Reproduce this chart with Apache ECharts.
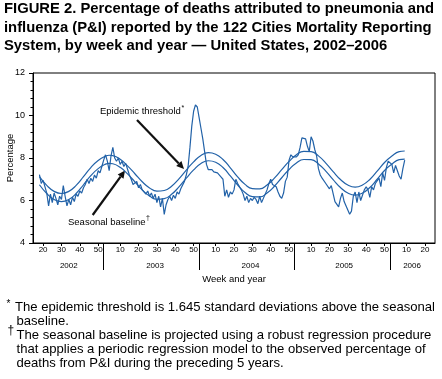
<!DOCTYPE html>
<html><head><meta charset="utf-8">
<script src="https://cdn.jsdelivr.net/npm/echarts@6/dist/echarts.min.js"></script>
<style>html,body{margin:0;padding:0;background:#fff}#c{width:442px;height:379px}</style>
</head><body><div id="c"></div>
<script>
// ---- data ----
const years = [2002, 2003, 2004, 2005, 2006];
const firstWeek = 15;      // first week shown in 2002
const lastWeek = 25;       // last week shown in 2006
const weeksInYear = 52;
const weekTickLabels = [10, 20, 30, 40, 50];
const yTickValues = [4, 6, 8, 10, 12];
const obsStart = 3;        // category index of first observed week (2002 wk 18)
const observed = [
  7.22,6.8,6.95,6.65,6.35,5.75,6.3,5.9,6.35,6.1,
  5.8,6.2,6.05,6.7,6.2,5.75,6.05,5.8,6.15,5.95,
  6.3,6.2,6.45,6.35,6.6,6.75,7.0,6.8,7.05,6.9,
  7.2,7.05,7.4,7.3,7.6,7.9,8.15,7.85,7.4,8.1,
  8.5,8.0,7.85,8.0,7.7,7.85,7.6,7.75,7.7,7.2,
  7.0,6.75,6.7,6.9,6.6,6.75,6.5,6.55,6.3,6.45,
  6.2,6.35,6.1,6.3,5.9,6.2,5.7,6.1,5.35,5.8,
  6.05,6.2,6.0,6.25,6.1,6.4,6.3,6.55,6.6,6.9,
  7.2,7.6,8.5,9.5,10.2,10.5,10.4,9.9,9.4,8.9,
  8.3,7.7,7.45,7.4,7.45,7.35,7.4,7.3,7.35,7.1,
  7.0,6.2,6.5,6.15,6.4,6.3,6.5,7.0,6.8,6.65,
  6.5,6.3,6.0,6.2,5.9,6.1,6.0,6.15,6.05,5.85,
  6.2,5.9,6.1,6.3,6.5,6.8,7.0,6.75,6.8,6.65,
  6.4,6.2,6.1,6.35,6.9,7.1,7.9,8.15,8.05,8.0,
  8.05,8.15,8.5,8.95,8.95,8.9,8.55,8.3,9.0,8.8,
  8.4,8.1,7.5,7.2,7.05,7.0,6.8,6.75,6.55,6.7,
  6.7,5.95,6.0,5.7,6.1,6.35,5.95,5.75,5.8,5.35,
  5.5,6.2,6.4,5.9,6.4,6.0,5.95,6.5,6.65,6.5,
  6.15,6.65,6.5,6.8,6.75,7.05,6.65,7.3,6.95,7.55,
  7.85,7.8,7.7,7.3,7.65,7.6,7.15,7.0,7.5,7.9
];
const curveIdx = [3,7,11,15,19,23,27,31,35,39,41,43,47,51,55,59,63,67,71,75,79,83,87,91,95,99,103,107,111,115,119,123,127,131,135,139,143,147,151,155,159,163,167,171,175,179,183,187,191,195,199,202];
const baseline = [6.74,6.33,6.05,5.95,6.05,6.33,6.74,7.17,7.5,7.71,7.75,7.73,7.56,7.25,6.88,6.5,6.21,6.06,6.09,6.29,6.64,7.05,7.44,7.74,7.87,7.8,7.55,7.16,6.73,6.38,6.18,6.17,6.35,6.67,7.07,7.46,7.77,7.93,7.92,7.72,7.38,6.98,6.61,6.35,6.25,6.35,6.61,7.0,7.41,7.71,7.92,7.95];
const threshold = [7.12,6.71,6.43,6.33,6.43,6.71,7.12,7.55,7.88,8.09,8.13,8.11,7.94,7.63,7.26,6.88,6.59,6.44,6.47,6.67,7.02,7.43,7.82,8.12,8.25,8.18,7.93,7.54,7.11,6.76,6.56,6.55,6.73,7.05,7.45,7.84,8.15,8.31,8.3,8.1,7.76,7.36,6.99,6.73,6.63,6.73,6.99,7.38,7.79,8.09,8.3,8.33];
const yearLabelWeek = {2002: 34, 2003: 29, 2004: 29, 2005: 28, 2006: 13};

// ---- build categories ----
const cats = [], catWeek = [], catYear = [];
years.forEach((y, i) => {
  const s = i === 0 ? firstWeek : 1;
  const e = i === years.length - 1 ? lastWeek : weeksInYear;
  for (let w = s; w <= e; w++) { cats.push(y + '-' + w); catWeek.push(w); catYear.push(y); }
});
const obsData = cats.map((c, i) => (i >= obsStart && i - obsStart < observed.length) ? observed[i - obsStart] : null);
const baseData = curveIdx.map((k, j) => [k, baseline[j]]);
const threshData = curveIdx.map((k, j) => [k, threshold[j]]);

const FF = '"Liberation Sans", Arial, Helvetica, sans-serif';
const BLUE = '#2262a8';

function arrow(x1, y1, x2, y2) {
  const dx = x2 - x1, dy = y2 - y1, L = Math.hypot(dx, dy);
  const ux = dx / L, uy = dy / L, hl = 7.5, hw = 3.6;
  const bx = x2 - ux * hl, by = y2 - uy * hl;
  return [
    {type: 'line', shape: {x1: x1, y1: y1, x2: bx, y2: by}, style: {stroke: '#111', lineWidth: 2.2}},
    {type: 'polygon', shape: {points: [[x2, y2], [bx - uy * hw, by + ux * hw], [bx + uy * hw, by - ux * hw]]}, style: {fill: '#111'}}
  ];
}
function txt(x, y, s, size, extra) {
  return Object.assign({type: 'text', x: x, y: y, style: {text: s, font: size + 'px ' + FF, fill: '#000', align: 'left', verticalAlign: 'middle'}}, extra || {});
}

const chart = echarts.init(document.getElementById('c'), null, {renderer: 'canvas'});
chart.setOption({
  animation: false,
  backgroundColor: '#fff',
  title: {
    text: 'FIGURE 2. Percentage of deaths attributed to pneumonia and\ninfluenza (P&I) reported by the 122 Cities Mortality Reporting\nSystem, by week and year \u2014 United States, 2002\u20132006',
    left: 4, top: 0, padding: 0,
    textStyle: {fontSize: 14.8, fontWeight: 'bold', lineHeight: 18.3, fontFamily: FF, color: '#000'}
  },
  grid: {left: 33, right: 7, top: 73, height: 170, show: true, borderColor: '#000', borderWidth: 1, backgroundColor: 'transparent', containLabel: false, outerBoundsMode: 'none'},
  xAxis: [{
    type: 'category', data: cats, boundaryGap: true,
    axisLine: {lineStyle: {color: '#000', width: 1}},
    axisTick: {show: true, alignWithLabel: true, length: 3, interval: (i) => weekTickLabels.indexOf(catWeek[i]) >= 0, lineStyle: {color: '#000'}},
    axisLabel: {interval: (i) => weekTickLabels.indexOf(catWeek[i]) >= 0, formatter: (v) => v.split('-')[1], fontSize: 8, margin: 3, color: '#000', fontFamily: FF},
    splitLine: {show: false}
  }, {
    type: 'category', data: cats, boundaryGap: true, position: 'bottom',
    axisLine: {show: false},
    axisTick: {show: true, alignWithLabel: true, length: 27, interval: (i) => catWeek[i] === 1, lineStyle: {color: '#000'}},
    axisLabel: {interval: (i) => yearLabelWeek[catYear[i]] === catWeek[i], formatter: (v) => v.split('-')[0], fontSize: 8, margin: 19, color: '#000', fontFamily: FF},
    splitLine: {show: false},
    name: 'Week and year', nameLocation: 'middle', nameGap: 31, nameMoveOverlap: false,
    nameTextStyle: {fontSize: 9.5, color: '#000', fontFamily: FF}
  }],
  yAxis: {
    type: 'value', min: yTickValues[0], max: yTickValues[yTickValues.length - 1], interval: 2,
    axisLine: {show: true, lineStyle: {color: '#000'}},
    axisTick: {show: true, length: 4, lineStyle: {color: '#000'}},
    minorTick: {show: true, splitNumber: 5, length: 2.5, lineStyle: {color: '#000'}},
    splitLine: {show: false},
    axisLabel: {fontSize: 9, margin: 8, color: '#000', fontFamily: FF},
    name: 'Percentage', nameLocation: 'middle', nameGap: 18, nameMoveOverlap: false,
    nameTextStyle: {fontSize: 9.5, color: '#000', fontFamily: FF}
  },
  series: [
    {name: 'Observed', type: 'line', data: obsData, showSymbol: false, lineStyle: {color: BLUE, width: 1.2}, itemStyle: {color: BLUE}, connectNulls: false},
    {name: 'Seasonal baseline', type: 'line', data: baseData, smooth: true, showSymbol: false, lineStyle: {color: BLUE, width: 1.2}, itemStyle: {color: BLUE}},
    {name: 'Epidemic threshold', type: 'line', data: threshData, smooth: true, showSymbol: false, lineStyle: {color: BLUE, width: 1.2}, itemStyle: {color: BLUE}}
  ],
  graphic: [].concat(
    arrow(137, 120, 184, 169),
    arrow(92.7, 215, 125, 170.5),
    [
      txt(100, 111.5, 'Epidemic threshold', 9.5),
      txt(181.5, 108.5, '*', 7),
      txt(68, 222, 'Seasonal baseline', 9.5),
      txt(146, 218, '\u2020', 7),
      txt(6.5, 304.5, '*', 10),
      txt(15, 307.5, 'The epidemic threshold is 1.645 standard deviations above the seasonal', 13.1),
      txt(16.5, 321.3, 'baseline.', 13.1),
      txt(7.5, 331, '\u2020', 12),
      txt(16.5, 335.5, 'The seasonal baseline is projected using a robust regression procedure', 13.1),
      txt(16.5, 349.6, 'that applies a periodic regression model to the observed percentage of', 13.1),
      txt(16.5, 363, 'deaths from P&I during the preceding 5 years.', 13.1)
    ]
  )
});
</script>
</body></html>
